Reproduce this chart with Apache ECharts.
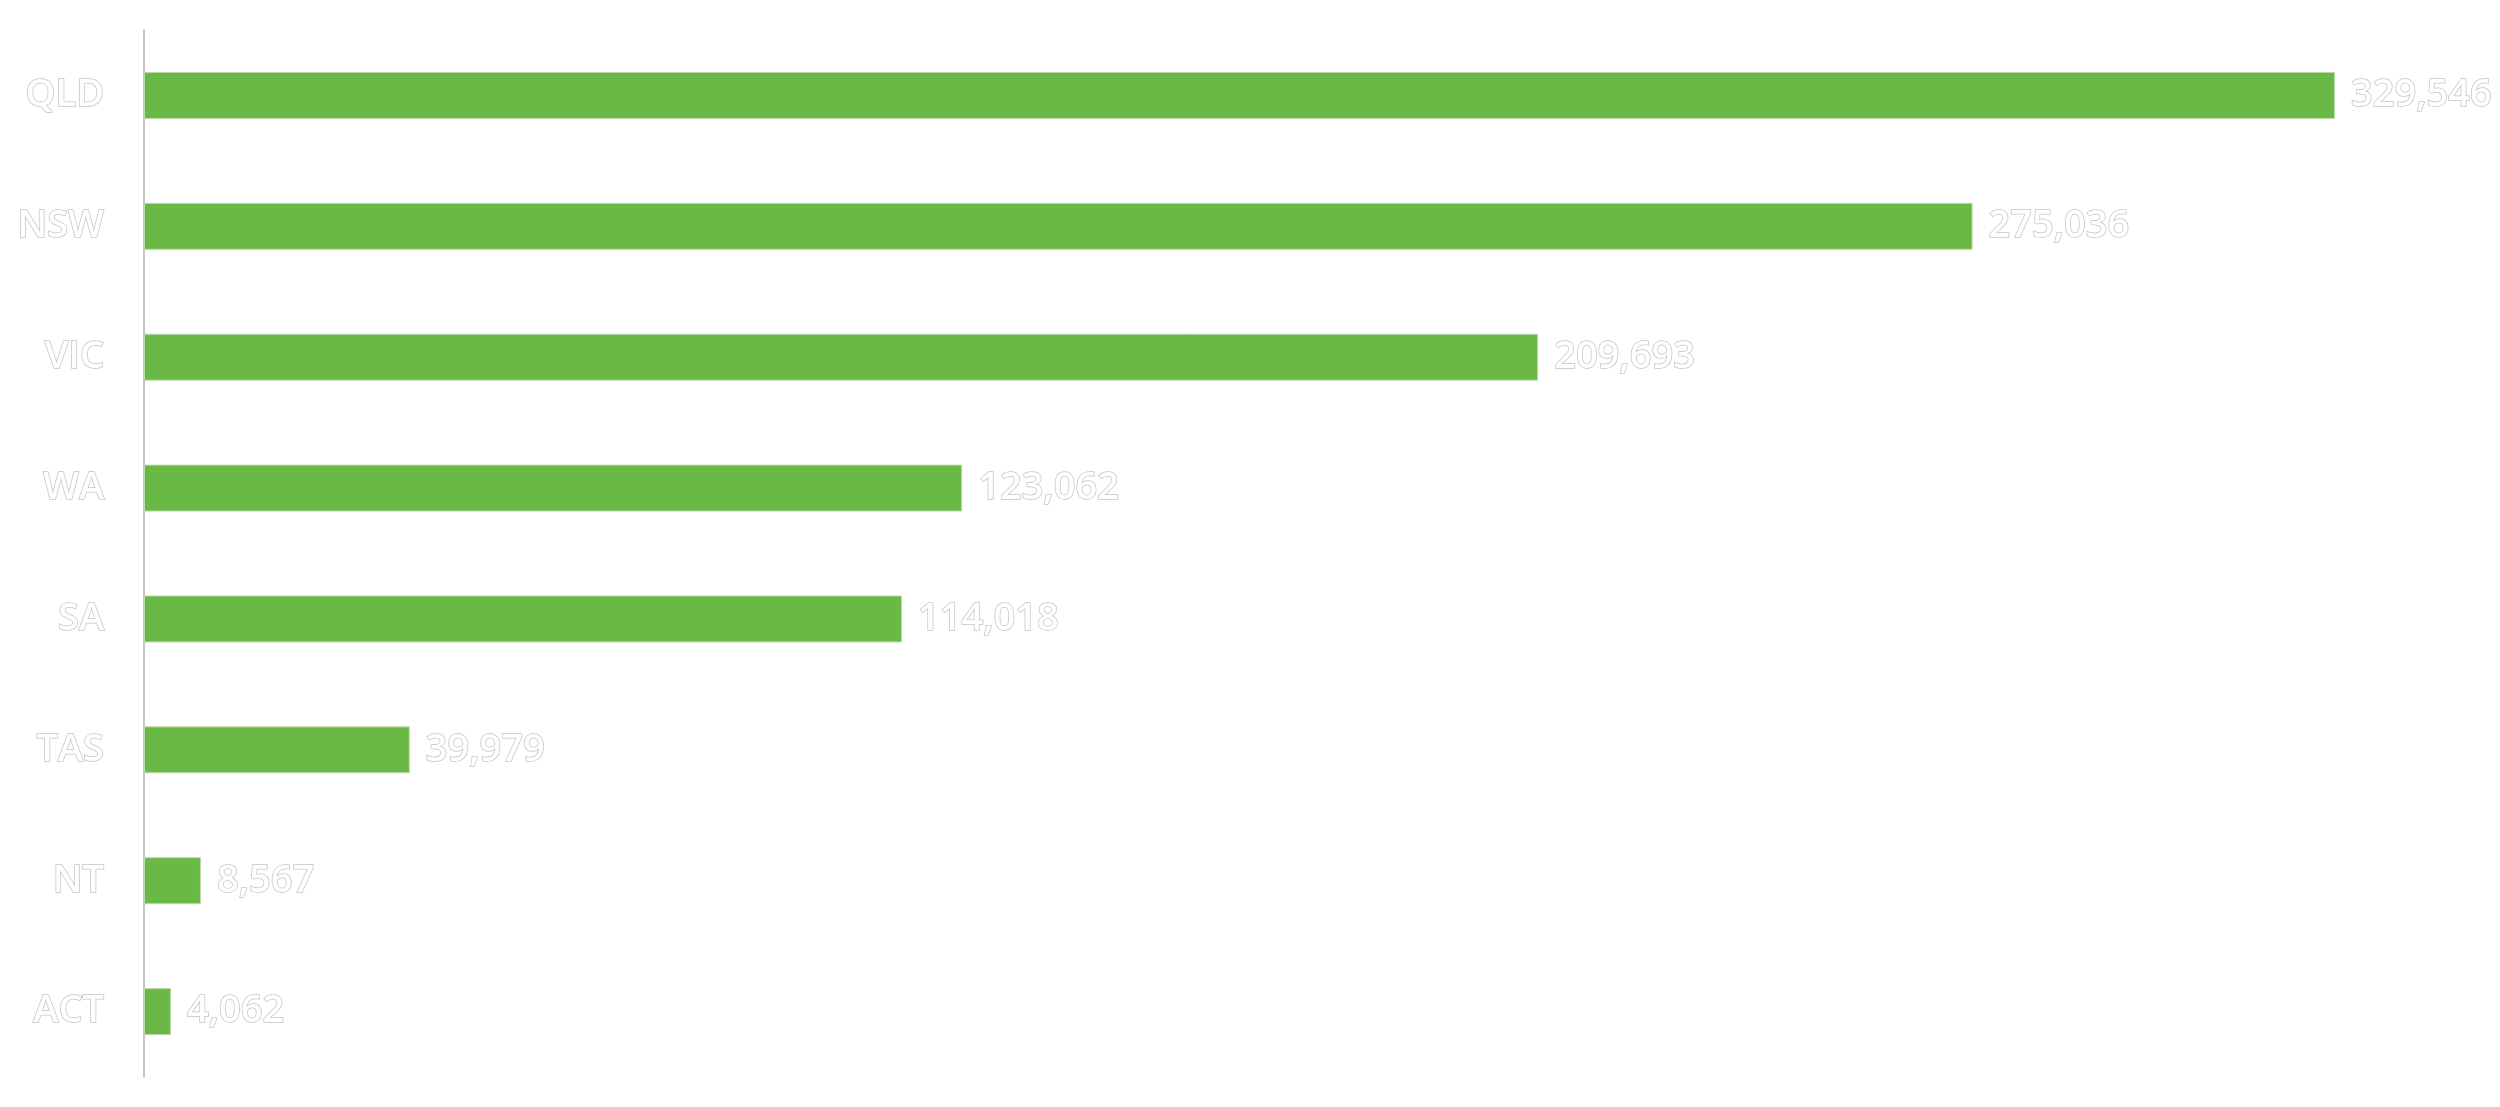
<!DOCTYPE html>
<html><head><meta charset="utf-8">
<script src="https://cdn.jsdelivr.net/npm/echarts@6/dist/echarts.min.js"></script>
<style>html,body{margin:0;padding:0;background:#fff}#c{width:2500px;height:1107px}</style>
</head><body><div id="c"></div>
<script>
var categories = ['QLD','NSW','VIC','WA','SA','TAS','NT','ACT'];
var values = [329546, 275036, 209693, 123062, 114018, 39979, 8567, 4062];

var chart = echarts.init(document.getElementById('c'), null, {renderer:'canvas'});
var textStyle = {
  fontFamily: '"Open Sans"', fontSize: 38, fontWeight: 600,
  color: '#ffffff', textBorderColor: '#c4c4c4', textBorderWidth: 1.5
};
chart.setOption({
  animation: false,
  grid: {left: 144, right: 165, top: 30, bottom: 30, containLabel: false},
  xAxis: {type: 'value', min: 0, max: 'dataMax', show: false},
  yAxis: {
    type: 'category', data: categories, inverse: true,
    axisLine: {show: true, lineStyle: {color: '#c6c6c6', width: 2}},
    axisTick: {show: false}, splitLine: {show: false},
    axisLabel: Object.assign({margin: 40}, textStyle)
  },
  series: [{
    type: 'bar', data: values, barWidth: 47,
    itemStyle: {color: '#6ab946', borderColor: '#bfd9b0', borderWidth: 1},
    label: Object.assign({
      show: true, position: 'right', distance: 16,
      formatter: function(p){ return p.value.toLocaleString('en-US'); }
    }, textStyle)
  }]
});
</script></body></html>
